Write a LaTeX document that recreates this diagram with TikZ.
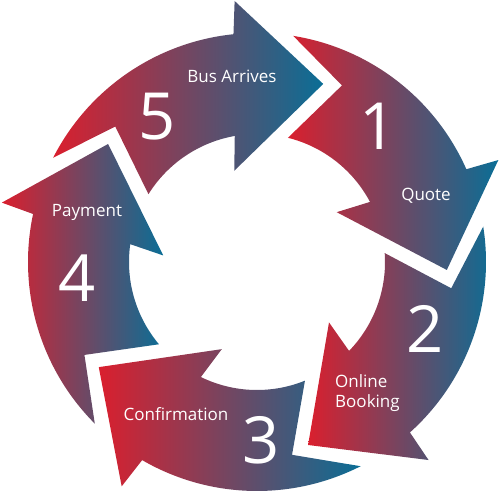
\documentclass[tikz,border=0pt]{standalone}
\usepackage{fontspec}
\setmainfont{Open Sans}
\definecolor{cycred}{HTML}{DA1F2E}
\definecolor{cycblue}{HTML}{0A6E96}

\begin{document}
\begin{tikzpicture}[
  x=1pt, y=1pt,
  seg/.style  = {left color=cycred, right color=cycblue, draw=none},
  num/.style  = {text=white, inner sep=0pt, font=\fontsize{65}{65}\selectfont},
  lbl/.style  = {text=white, inner sep=0pt, align=left,
                 font=\fontsize{17}{20.5}\selectfont},
]
\useasboundingbox (-257,-230) rectangle (243,262);

% ── five curved arrows, tips pointing clockwise ─────────────────────────
\foreach \t in {-2.4,-74.4,-146.4,141.6,69.6}
  \shade[seg] (\t:190) -- (\t+25.3:262) -- (\t+26.3:229)
    arc[start angle=\t+26.3, end angle=\t+83.3, radius=229]
    -- (\t+66.7:196) -- (\t+78.4:128)
    arc[start angle=\t+78.4, end angle=\t+30.4, radius=128]
    -- (\t+34.4:94) -- cycle;

% ── steps ───────────────────────────────────────────────────────────────
\node[num] (n1) at (121,136) {1};
\node[lbl] (t1) at (169,66) {Quote};
\node[num] (n2) at (168,-67) {2};
\node[lbl, anchor=west] (t2) at (78,-131) {Online\\Booking};
\node[num] (n3) at (4,-178) {3};
\node[lbl] (t3) at (-81,-152) {Confirmation};
\node[num] (n4) at (-180,-16) {4};
\node[lbl] (t4) at (-170,50) {Payment};
\node[num] (n5) at (-100,145) {5};
\node[lbl] (t5) at (-25,186) {Bus Arrives};
\end{tikzpicture}
\end{document}
